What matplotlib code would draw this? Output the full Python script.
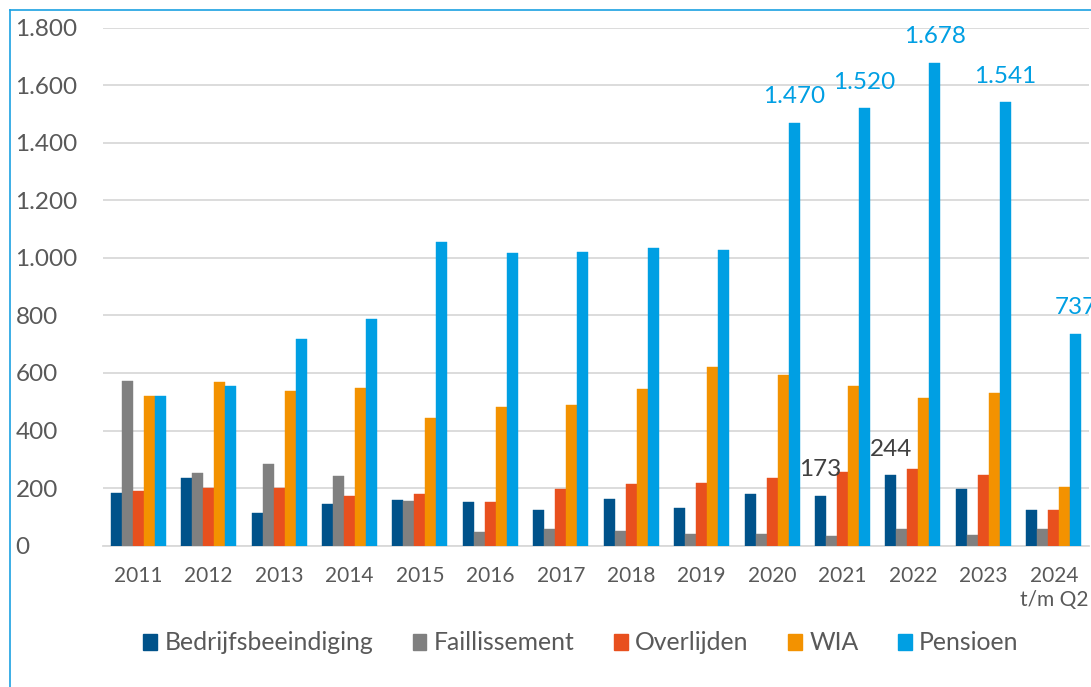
import numpy as np
import matplotlib
matplotlib.use('Agg')
import matplotlib.pyplot as plt
from matplotlib.patches import Patch
from matplotlib.lines import Line2D

# Data
years = ['2011', '2012', '2013', '2014', '2015', '2016', '2017', '2018',
         '2019', '2020', '2021', '2022', '2023', '2024\nt/m Q2']
bedrijfsbeeindiging = [184, 235, 113, 146, 159, 153, 124, 161, 131, 179, 173, 244, 198, 124]
faillissement = [573, 251, 283, 242, 154, 46, 58, 51, 41, 39, 32, 59, 37, 57]
overlijden = [190, 200, 200, 172, 181, 151, 196, 213, 217, 235, 257, 265, 244, 125]
wia = [521, 569, 537, 549, 444, 483, 487, 545, 622, 594, 555, 513, 531, 205]
pensioen = [521, 555, 718, 788, 1056, 1018, 1020, 1035, 1028, 1470, 1520, 1678, 1541, 737]

series_names = ['Bedrijfsbeeindiging', 'Faillissement', 'Overlijden', 'WIA', 'Pensioen']
colors = ['#00528A', '#808080', '#E8501E', '#F39200', '#009FE3']

# which bars get a data label
label_pensioen_years = [9, 10, 11, 12, 13]
label_bedrijf_years = [10, 11]

plt.rcParams['font.family'] = ['Lato', 'DejaVu Sans']

W, H = 1091, 687
fig = plt.figure(figsize=(W / 100, H / 100), dpi=100)
ax = fig.add_axes([103 / W, 1 - 545.6 / H, 986 / W, (545.6 - 27.7) / H])

x = np.arange(len(years))
width = 0.156
all_series = [bedrijfsbeeindiging, faillissement, overlijden, wia, pensioen]
for k, (vals, col) in enumerate(zip(all_series, colors)):
    ax.bar(x + (k - 2) * width, vals, width, color=col, edgecolor=col,
           linewidth=0.3, zorder=3)

# data labels
for i in label_pensioen_years:
    ax.annotate(f'{pensioen[i]:,}'.replace(',', '.'), (x[i] + 2 * width, pensioen[i]),
                xytext=(0, 14), textcoords='offset points', ha='center',
                va='baseline', fontsize=17.5, color='#009FE3', annotation_clip=False)
for i in label_bedrijf_years:
    ax.annotate(f'{bedrijfsbeeindiging[i]}', (x[i] - 2 * width, bedrijfsbeeindiging[i]),
                xytext=(0, 14), textcoords='offset points', ha='center',
                va='baseline', fontsize=17.5, color='#404040')

ax.set_xlim(-0.5, len(years) - 0.5)
ax.set_ylim(0, 1800)
ax.set_yticks(range(0, 1801, 200))
ax.set_yticklabels([f'{v:,}'.replace(',', '.') for v in range(0, 1801, 200)],
                   fontsize=17.5, color='#595959', ha='left')
ax.tick_params(axis='y', length=0, pad=63)
ax.set_xticks(x)
ax.set_xticklabels(years, fontsize=15, color='#595959', linespacing=1.25)
ax.tick_params(axis='x', length=0, pad=15)

ax.grid(axis='y', color='#D9D9D9', linewidth=1.3, zorder=0)
for s in ['top', 'right', 'left']:
    ax.spines[s].set_visible(False)
ax.spines['bottom'].set_color('#D9D9D9')
ax.spines['bottom'].set_linewidth(1.3)

handles = [Patch(facecolor=c, edgecolor=c) for c in colors]
fig.legend(handles, series_names, loc='center', bbox_to_anchor=(581 / W, 1 - 643 / H),
           ncol=5, frameon=False, fontsize=17.8, handlelength=0.55, handleheight=0.65,
           handletextpad=0.3, columnspacing=1.6, labelcolor='#595959')

# frame of the original chart (left and top edges visible)
fig.add_artist(Line2D([9.5 / W, 9.5 / W], [0, 1 - 9.5 / H], color='#1BA1E2', linewidth=1.2))
fig.add_artist(Line2D([9.5 / W, 1], [1 - 9.5 / H, 1 - 9.5 / H], color='#1BA1E2', linewidth=1.2))

fig.savefig('out.png', dpi=100)
